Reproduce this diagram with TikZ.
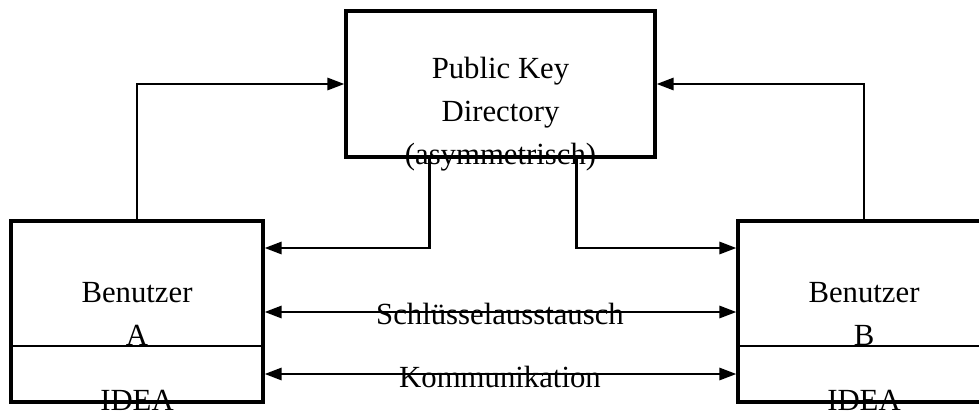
\documentclass[tikz,border=0pt]{standalone}
\usepackage{fontspec}
\setmainfont{Liberation Serif}
\usetikzlibrary{positioning, arrows.meta, calc}
\tikzset{
    pkbox/.style={draw, line width=1.8pt, minimum width=6.18cm, minimum height=2.92cm, inner sep=0pt},
    userbox/.style={draw, line width=1.8pt, minimum width=5.04cm, minimum height=3.62cm, inner sep=0pt},
    boxtxt/.style={align=center, inner sep=0pt, font=\fontsize{17.5}{24.5}\selectfont},
    conn/.style={-{Triangle[length=0.34cm, width=0.24cm]}, line width=1.6pt},
    dblconn/.style={{Triangle[length=0.34cm, width=0.24cm]}-{Triangle[length=0.34cm, width=0.24cm]}, line width=1.6pt},
    divider/.style={line width=0.6pt},
}

\begin{document}
\begin{tikzpicture}[x=0.02cm, y=-0.02cm]
        \useasboundingbox (0,0) rectangle (979,412);
        \clip (0,0) rectangle (979,412);
        % boxes
        \node[pkbox]   (dir) at (500.5,84)  {};
        \node[userbox] (usa) at (137,311.5) {};
        \node[userbox] (usb) at (864,311.5) {};
        % texts
        \node[boxtxt] (dirtxt) at (500.5,114.5) {Public Key\\ Directory\\ (asymmetrisch)};
        \node[boxtxt] (usatxt) at (137,313.5) {Benutzer\\ A};
        \node[boxtxt] (usbtxt) at (864,313.5) {Benutzer\\ B};
        \node[boxtxt] (ideaa) at (137,400) {IDEA};
        \node[boxtxt] (ideab) at (864,400) {IDEA};
        \draw[divider] (usa.west |- 0,346) -- (usa.east |- 0,346);
        \draw[divider] (usb.west |- 0,346) -- (usb.east |- 0,346);
        % directory links
        \coordinate (dl) at ($(dir.south west)+(85,0)$);
        \coordinate (dr) at ($(dir.south west)+(232,0)$);
        \draw[conn] (usa.north) |- (dir.west);
        \draw[conn] (usb.north) |- (dir.east);
        \draw[conn] (dl) |- (usa.east |- 0,248);
        \draw[conn] (dr) |- (usb.west |- 0,248);
        % exchange
        \draw[dblconn] (usa.east |- 0,312) -- (usb.west |- 0,312);
        \draw[dblconn] (usa.east |- 0,374) -- (usb.west |- 0,374);
        \node[boxtxt] (keyx) at (500,314) {Schlüsselausstausch};
        \node[boxtxt] (komm) at (500,377) {Kommunikation};
\end{tikzpicture}
\end{document}
